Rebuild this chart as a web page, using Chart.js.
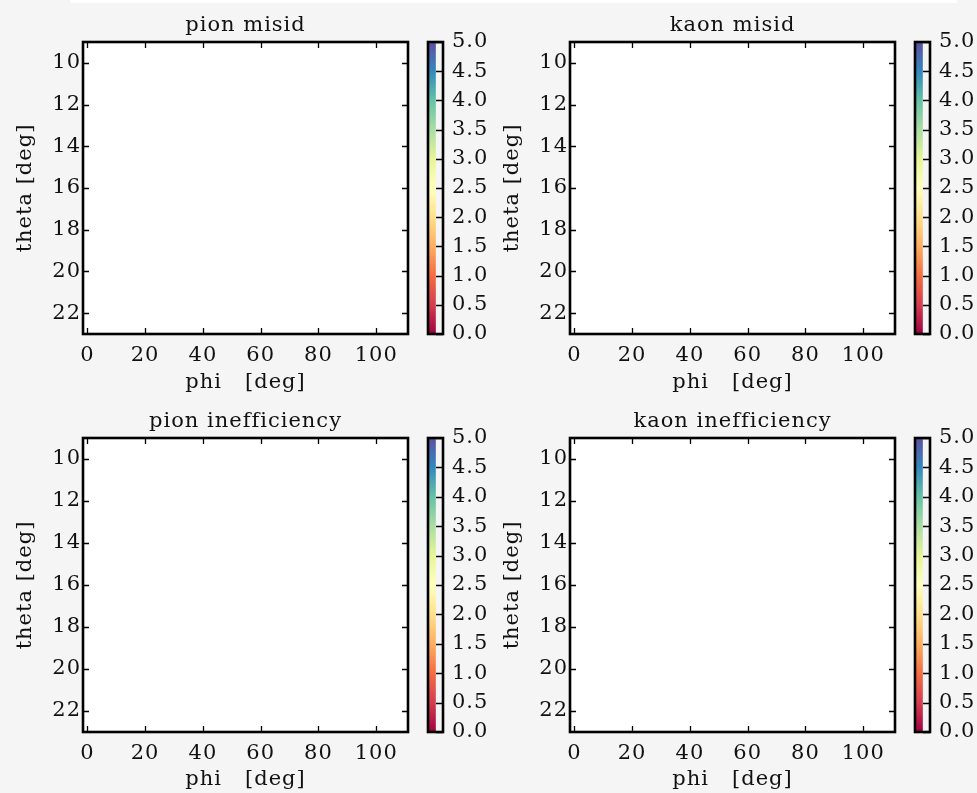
<!DOCTYPE html>
<html>
<head>
<meta charset="utf-8">
<script src="https://cdn.jsdelivr.net/npm/chart.js@4.4.1/dist/chart.umd.min.js"></script>
<style>
html,body{margin:0;padding:0;background:#f5f5f5;width:977px;height:793px;overflow:hidden;position:relative;}
#strip{position:absolute;left:70px;top:0;width:887px;height:3px;background:#ffffff;}
canvas{position:absolute;}
</style>
</head>
<body>
<div id="strip"></div>
<script>
// ---- data ----
const panelTitles = ['pion misid', 'kaon misid', 'pion inefficiency', 'kaon inefficiency'];
const phiTicks = [0, 20, 40, 60, 80, 100];
const thetaTicks = [10, 12, 14, 16, 18, 20, 22];
const phiRange = [-1.5, 111];
const thetaRange = [9, 23];
const cbarTicks = [0.0, 0.5, 1.0, 1.5, 2.0, 2.5, 3.0, 3.5, 4.0, 4.5, 5.0];
const cbarRange = [0, 5];
// the maps are empty in the reference
const pionMisid = [];
const kaonMisid = [];
const pionIneff = [];
const kaonIneff = [];
const xTitle = 'phi   [deg]';
const yTitle = 'theta [deg]';

// ---- styling ----
const spectral = ['#9e0142','#d53e4f','#f46d43','#fdae61','#fee08b','#ffffbf','#e6f598','#abdda4','#66c2a5','#3288bd','#5e4fa2'];
const FONT = {family: '"DejaVu Serif", serif', size: 21, weight: 'normal', lineHeight: 1.2};
const TXT = '#111111';
const TICK_LEN = 6;
const LETTER_SP = '1px';

const panelData = [pionMisid, kaonMisid, pionIneff, kaonIneff];
const layouts = [
  {left: 0,   top: 0,   h: 396, areaTop: 42, areaBottom: 334},
  {left: 487, top: 0,   h: 396, areaTop: 42, areaBottom: 334},
  {left: 0,   top: 396, h: 397, areaTop: 42, areaBottom: 336},
  {left: 487, top: 396, h: 397, areaTop: 42, areaBottom: 336}
];
const PANEL_W = 491, YAX_W = 83;
const CB_W = 70, CB_LEFTPAD = 8, CB_BAR = 15;

function makeCanvas(l, t, w, h) {
  const c = document.createElement('canvas');
  c.width = w; c.height = h;
  c.style.left = l + 'px'; c.style.top = t + 'px';
  c.style.width = w + 'px'; c.style.height = h + 'px';
  document.body.appendChild(c);
  return c;
}

const spacingPlugin = {
  id: 'spacing',
  beforeUpdate(chart) { chart.ctx.letterSpacing = LETTER_SP; },
  beforeDraw(chart) { chart.ctx.letterSpacing = LETTER_SP; }
};

const framePlugin = {
  id: 'frame',
  beforeDraw(chart) {
    const o = chart.options.plugins.frame || {};
    if (!o.white) return;
    const {ctx, chartArea: a} = chart;
    ctx.save();
    ctx.fillStyle = '#ffffff';
    ctx.fillRect(a.left, a.top, a.width, a.height);
    ctx.restore();
  },
  afterDraw(chart) {
    const o = chart.options.plugins.frame || {};
    const {ctx, chartArea: a} = chart;
    ctx.save();
    ctx.strokeStyle = '#000';
    ctx.lineWidth = 1.3;
    ctx.beginPath();
    if (o.xTicks) {
      const xs = chart.scales.x;
      xs.ticks.forEach(t => {
        const p = Math.round(xs.getPixelForValue(t.value)) + 0.5;
        ctx.moveTo(p, a.bottom); ctx.lineTo(p, a.bottom - TICK_LEN);
        ctx.moveTo(p, a.top); ctx.lineTo(p, a.top + TICK_LEN);
      });
    }
    if (o.yTicks) {
      const ys = chart.scales.y;
      ys.ticks.forEach(t => {
        const p = Math.round(ys.getPixelForValue(t.value)) + 0.5;
        if (o.yLeft) { ctx.moveTo(a.left, p); ctx.lineTo(a.left + TICK_LEN, p); }
        ctx.moveTo(a.right, p); ctx.lineTo(a.right - (o.yTickLen || TICK_LEN), p);
      });
    }
    ctx.stroke();
    ctx.lineWidth = 2.6;
    ctx.strokeRect(a.left, a.top, a.width, a.height);
    ctx.restore();
  }
};

layouts.forEach((L, i) => {
  const cv = makeCanvas(L.left, L.top, PANEL_W, L.h);
  new Chart(cv, {
    type: 'scatter',
    data: {datasets: [{data: panelData[i], pointRadius: 0}]},
    options: {
      responsive: false, animation: false,
      layout: {padding: 0},
      events: [],
      plugins: {
        legend: {display: false},
        tooltip: {enabled: false},
        title: {display: true, text: panelTitles[i], font: FONT, color: TXT, padding: {top: 13, bottom: L.areaTop - 13 - 25.2}},
        frame: {white: true, xTicks: true, yTicks: true, yLeft: true}
      },
      scales: {
        x: {
          type: 'linear', position: 'bottom', min: phiRange[0], max: phiRange[1],
          grid: {display: false, drawTicks: false}, border: {display: false},
          ticks: {font: FONT, color: TXT, padding: 9, maxRotation: 0, autoSkip: false},
          afterBuildTicks: s => { s.ticks = phiTicks.map(v => ({value: v})); },
          afterFit: s => { s.height = L.h - L.areaBottom; },
          title: {display: true, text: xTitle, font: FONT, color: TXT, padding: {top: 0, bottom: 1}}
        },
        y: {
          type: 'linear', position: 'left', reverse: true, min: thetaRange[0], max: thetaRange[1],
          grid: {display: false, drawTicks: false}, border: {display: false},
          ticks: {font: FONT, color: TXT, padding: 2, autoSkip: false},
          afterBuildTicks: s => { s.ticks = thetaTicks.map(v => ({value: v})); },
          afterFit: s => { s.width = YAX_W; },
          title: {display: true, text: yTitle, font: FONT, color: TXT, padding: {top: 13, bottom: 0}}
        },
        y2: {
          type: 'linear', position: 'right', min: thetaRange[0], max: thetaRange[1],
          grid: {display: false, drawTicks: false}, border: {display: false},
          ticks: {display: false},
          afterFit: s => { s.width = YAX_W; }
        }
      }
    },
    plugins: [spacingPlugin, framePlugin]
  });
});

layouts.forEach((L, i) => {
  const cv = makeCanvas(L.left + 420, L.top, CB_W, L.h);
  new Chart(cv, {
    type: 'bar',
    data: {
      labels: ['colorbar'],
      datasets: [{
        data: [cbarRange],
        borderWidth: 0,
        barPercentage: 1, categoryPercentage: 1,
        backgroundColor: c => {
          const a = c.chart.chartArea;
          if (!a) return spectral[0];
          const g = c.chart.ctx.createLinearGradient(0, a.bottom, 0, a.top);
          spectral.forEach((col, k) => g.addColorStop(k / (spectral.length - 1), col));
          return g;
        }
      }]
    },
    options: {
      responsive: false, animation: false, events: [],
      layout: {padding: {left: CB_LEFTPAD, right: 0, top: L.areaTop, bottom: L.h - L.areaBottom}},
      plugins: {
        legend: {display: false}, tooltip: {enabled: false},
        frame: {white: false, xTicks: false, yTicks: true, yLeft: false, yTickLen: 7}
      },
      scales: {
        x: {display: false, offset: false},
        y: {
          type: 'linear', position: 'right', min: cbarRange[0], max: cbarRange[1],
          grid: {display: false, drawTicks: false}, border: {display: false},
          ticks: {font: FONT, color: TXT, padding: 9, autoSkip: false, callback: v => Number(v).toFixed(1)},
          afterBuildTicks: s => { s.ticks = cbarTicks.map(v => ({value: v})); },
          afterFit: s => { s.width = CB_W - CB_LEFTPAD - CB_BAR; }
        }
      }
    },
    plugins: [spacingPlugin, framePlugin]
  });
});
</script>
</body>
</html>
